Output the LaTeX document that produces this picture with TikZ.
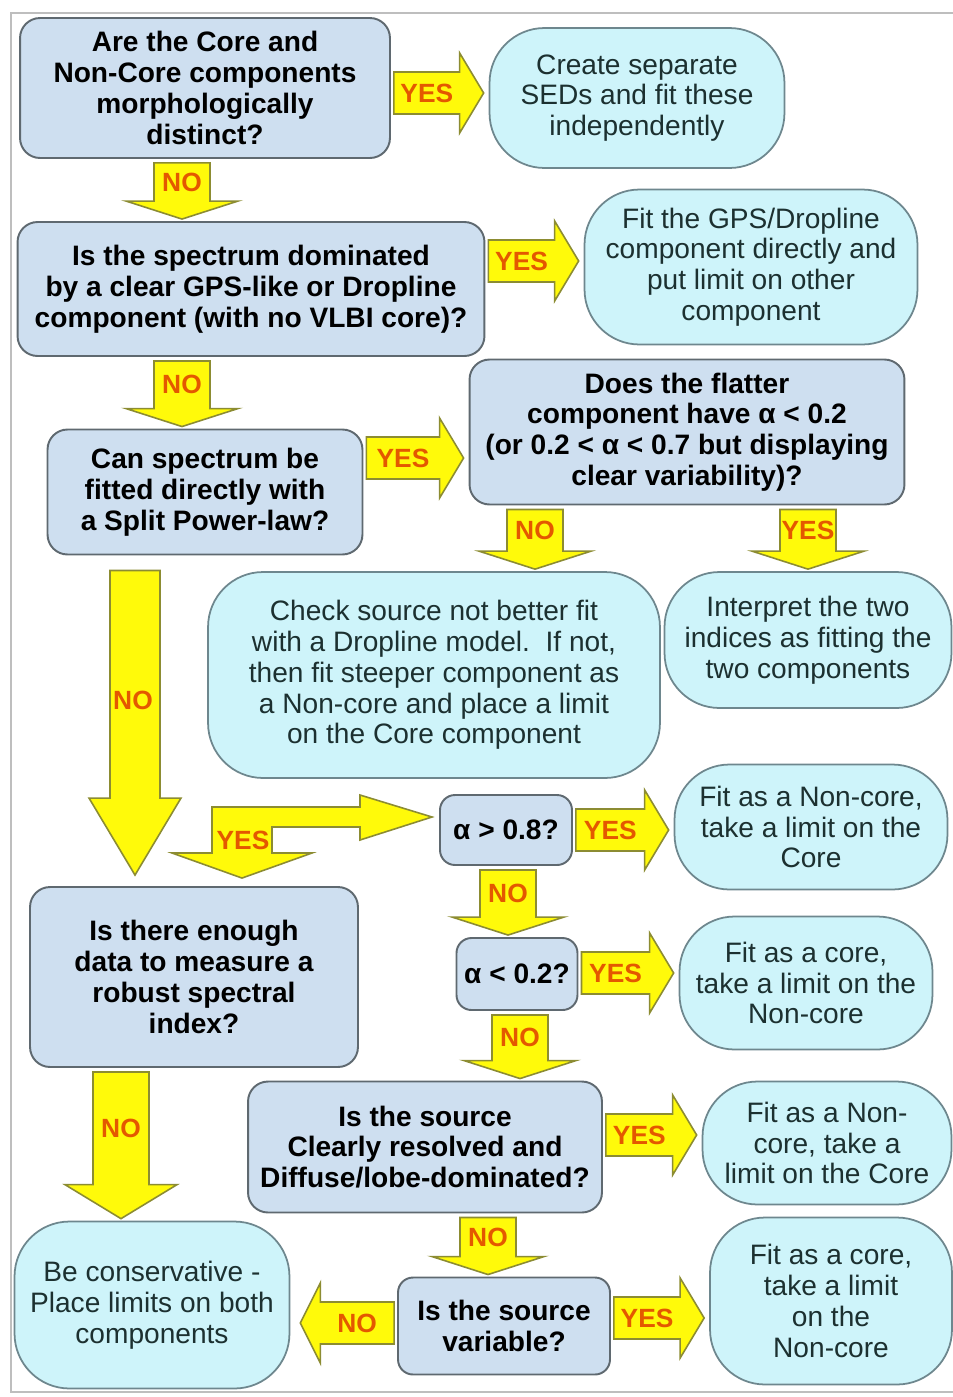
\documentclass[tikz,border=0pt]{standalone}
\usepackage{fontspec}
\setmainfont{Liberation Sans}
\usetikzlibrary{calc}

\definecolor{qfill}{RGB}{206,223,240}
\definecolor{qedge}{RGB}{95,105,112}
\definecolor{afill}{RGB}{206,244,250}
\definecolor{aedge}{RGB}{110,135,142}
\definecolor{atext}{RGB}{28,48,48}
\definecolor{arrowyellow}{RGB}{255,250,10}
\definecolor{arrowedge}{RGB}{140,140,50}
\definecolor{labelorange}{RGB}{228,88,0}
\definecolor{framegray}{RGB}{190,190,190}

\tikzset{
    qbox/.style={draw=qedge, fill=qfill, line width=1.1pt, rounded corners=0.4cm,
        align=center, inner sep=0pt, font=\fontsize{16}{17.5}\selectfont\bfseries},
    abox/.style={draw=aedge, fill=afill, line width=1pt, rounded corners=1.1cm,
        align=center, inner sep=0pt, text=atext, font=\fontsize{16}{17.5}\selectfont},
    fatarrow/.style={fill=arrowyellow, draw=arrowedge, line width=0.9pt, line join=miter},
    arrowlabel/.style={inner sep=0pt, text=labelorange, font=\fontsize{15}{15}\selectfont\bfseries}
}

% block arrow to the right: name, y, from, to, label
\newcommand{\rightarr}[5]{%
    \path ($(#3.east |- 0,#2)+(3,0)$) coordinate (#1s)
          ($(#4.west |- 0,#2)+(-5,0)$) coordinate (#1t)
          ($(#1t)+(-24,0)$) coordinate (#1h);
    \draw[fatarrow] ($(#1s)+(0,-21)$) -- ($(#1h)+(0,-21)$) -- ($(#1h)+(0,-40)$) -- (#1t)
        -- ($(#1h)+(0,40)$) -- ($(#1h)+(0,21)$) -- ($(#1s)+(0,21)$) -- cycle;
    \node[arrowlabel] (#1) at ($(#1s)!0.5!(#1h)$) {#5};
}
% block arrow to the left: name, y, from, to, label
\newcommand{\leftarr}[5]{%
    \path ($(#3.west |- 0,#2)+(-3,0)$) coordinate (#1s)
          ($(#4.east |- 0,#2)+(10,0)$) coordinate (#1t)
          ($(#1t)+(20,0)$) coordinate (#1h);
    \draw[fatarrow] ($(#1s)+(0,-21)$) -- ($(#1h)+(0,-21)$) -- ($(#1h)+(0,-40)$) -- (#1t)
        -- ($(#1h)+(0,40)$) -- ($(#1h)+(0,21)$) -- ($(#1s)+(0,21)$) -- cycle;
    \node[arrowlabel] (#1) at ($(#1s)!0.5!(#1h)$) {#5};
}
% block arrow downwards: [head length] name, x, from, to, label
\newcommand{\downarr}[6][18]{%
    \path ($(#4.south -| #3,0)+(0,4)$) coordinate (#2s)
          ($(#5.north -| #3,0)+(0,-2)$) coordinate (#2t)
          ($(#2t)+(0,-#1)$) coordinate (#2h);
    \draw[fatarrow] ($(#2s)+(-28,0)$) -- ($(#2h)+(-28,0)$) -- ($(#2h)+(-56,0)$) -- (#2t)
        -- ($(#2h)+(56,0)$) -- ($(#2h)+(28,0)$) -- ($(#2s)+(28,0)$) -- cycle;
    \node[arrowlabel] (#2) at ($(#2s)!0.5!(#2h)$) {#6};
}

\begin{document}
\begin{tikzpicture}[x=0.02cm, y=-0.02cm]
    \useasboundingbox (0,0) rectangle (953,1397);
    \fill[white] (0,0) rectangle (953,1397);
    \draw[framegray, line width=1pt] (953,13) -- (11,13) -- (11,1392) -- (953,1392);

    % questions
    \node[qbox, minimum width=7.4cm, minimum height=2.8cm] (q1) at (205,88)
        {Are the Core and\\Non-Core components\\morphologically\\distinct?};
    \node[qbox, minimum width=9.34cm, minimum height=2.68cm] (q2) at (251,289)
        {Is the spectrum dominated\\by a clear GPS-like or Dropline\\component (with no VLBI core)?};
    \node[qbox, minimum width=6.3cm, minimum height=2.5cm] (q3) at (205,492)
        {Can spectrum be\\fitted directly with\\a Split Power-law?};
    \node[qbox, minimum width=8.7cm, minimum height=2.9cm] (q4) at (687,432)
        {Does the flatter\\component have α < 0.2\\(or 0.2 < α < 0.7 but displaying\\clear variability)?};
    \node[qbox, minimum width=2.64cm, minimum height=1.4cm, rounded corners=0.3cm] (q5) at (506,830)
        {α > 0.8?};
    \node[qbox, minimum width=2.42cm, minimum height=1.44cm, rounded corners=0.3cm] (q6) at (517,974)
        {α < 0.2?};
    \node[qbox, minimum width=6.56cm, minimum height=3.6cm] (q7) at (194,977)
        {Is there enough\\data to measure a\\robust spectral\\index?};
    \node[qbox, minimum width=7.08cm, minimum height=2.62cm] (q8) at (425,1147)
        {Is the source\\Clearly resolved and\\Diffuse/lobe-dominated?};
    \node[qbox, minimum width=4.24cm, minimum height=1.94cm, rounded corners=0.3cm] (q9) at (504,1326)
        {Is the source\\variable?};

    % answers
    \node[abox, minimum width=5.9cm, minimum height=2.8cm] (a1) at (637,98)
        {Create separate\\SEDs and fit these\\independently};
    \node[abox, minimum width=6.66cm, minimum height=3.1cm] (a2) at (751,267)
        {Fit the GPS/Dropline\\component directly and\\put limit on other\\component};
    \node[abox, minimum width=9.04cm, minimum height=4.12cm] (a3) at (434,675)
        {Check source not better fit\\with a Dropline model.\ \ If not,\\then fit steeper component as\\a Non-core and place a limit\\on the Core component};
    \node[abox, minimum width=5.74cm, minimum height=2.72cm] (a4) at (808,640)
        {Interpret the two\\indices as fitting the\\two components};
    \node[abox, minimum width=5.46cm, minimum height=2.5cm] (a5) at (811,827)
        {Fit as a Non-core,\\take a limit on the\\Core};
    \node[abox, minimum width=5.06cm, minimum height=2.66cm] (a6) at (806,983)
        {Fit as a core,\\take a limit on the\\Non-core};
    \node[abox, minimum width=4.98cm, minimum height=2.46cm] (a7) at (827,1143)
        {Fit as a Non-\\core, take a\\limit on the Core};
    \node[abox, minimum width=5.5cm, minimum height=3.34cm] (a8) at (152,1305)
        {Be conservative -\\Place limits on both\\components};
    \node[abox, minimum width=4.84cm, minimum height=3.34cm] (a9) at (831,1301)
        {Fit as a core,\\take a limit\\on the\\Non-core};

    % yes / no arrows
    \rightarr{yes1}{93}{q1}{a1}{YES}
    \rightarr{yes2}{261}{q2}{a2}{YES}
    \rightarr{yes3}{458}{q3}{q4}{YES}
    \rightarr{yes5}{830}{q5}{a5}{YES}
    \rightarr{yes6}{973}{q6}{a6}{YES}
    \rightarr{yes8}{1135}{q8}{a7}{YES}
    \rightarr{yes9}{1318}{q9}{a9}{YES}
    \leftarr{no9}{1323}{q9}{a8}{NO}
    \downarr{no1}{182}{q1}{q2}{NO}
    \downarr{no2}{182}{q2}{q3}{NO}
    \downarr{no4}{535}{q4}{a3}{NO}
    \downarr{yes4}{808}{q4}{a4}{YES}
    \downarr{no5}{508}{q5}{q6}{NO}
    \downarr{no6}{520}{q6}{q8}{NO}
    \downarr{no8}{488}{q8}{q9}{NO}
    \downarr[34]{no7}{121}{q7}{a8}{NO}

    % long NO arrow and the bent YES arrow
    \path ($(q3.south -| 135,0)+(0,15)$) coordinate (no3s)
          ($(q7.north -| 135,0)+(0,-11)$) coordinate (no3t)
          ($(no3t)+(0,-77)$) coordinate (no3h);
    \draw[fatarrow] ($(no3s)+(-25,0)$) -- ($(no3h)+(-25,0)$) -- ($(no3h)+(-46,0)$) -- (no3t)
        -- ($(no3h)+(46,0)$) -- ($(no3h)+(25,0)$) -- ($(no3s)+(25,0)$) -- cycle;
    \node[arrowlabel] (no3) at (133,700) {NO};

    \coordinate (bendr) at ($(q5.west |- 0,817)+(-7,0)$);
    \coordinate (bendd) at ($(q7.north -| 242,0)+(0,-8)$);
    \draw[fatarrow] (212,807) -- (360,807) -- (360,795) -- (bendr) -- (360,840) -- (360,827)
        -- (272,827) -- (272,853) -- (312,853) -- (bendd) -- (172,853) -- (212,853) -- cycle;
    \node[arrowlabel] (yes7) at (243,840) {YES};
\end{tikzpicture}
\end{document}
